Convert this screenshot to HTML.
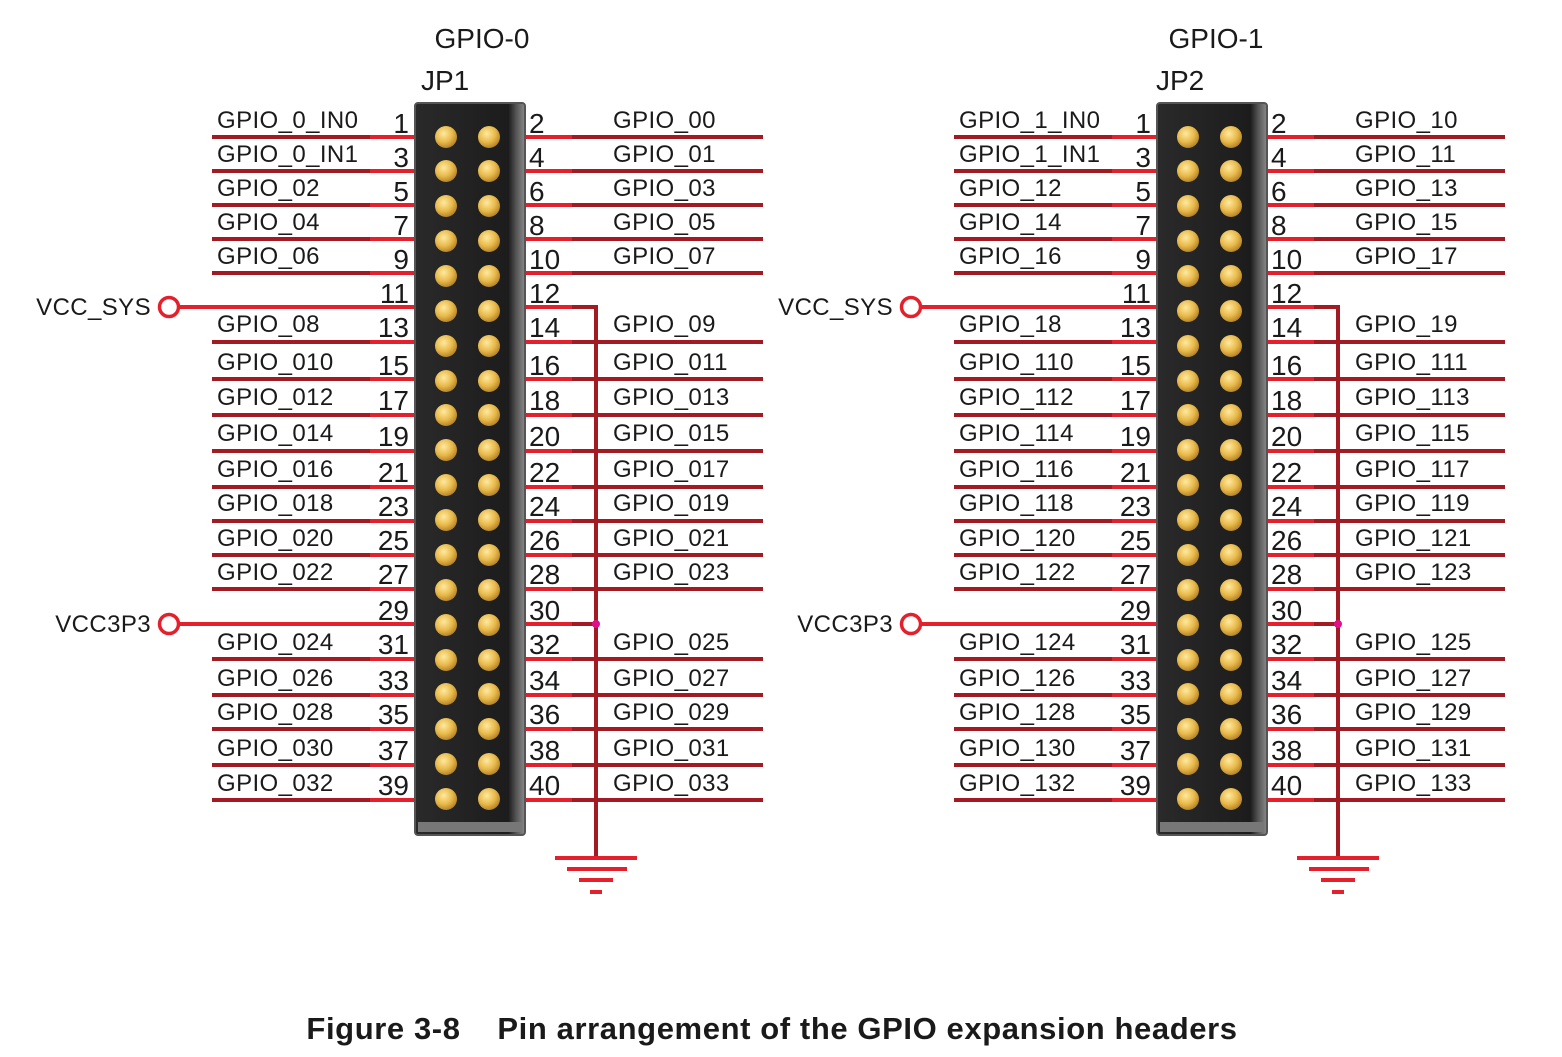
<!DOCTYPE html>
<html><head><meta charset="utf-8"><style>
html,body{margin:0;padding:0;background:#fff}
svg{display:block}
text{font-family:"Liberation Sans",sans-serif;fill:#1a1a1a}
.l{font-size:24px;letter-spacing:0.4px}
.n{font-size:28px}
.t{font-size:28px}
.c{font-size:31px;font-weight:bold;letter-spacing:0.6px}
</style></head><body>
<svg width="1562" height="1057" viewBox="0 0 1562 1057" xmlns="http://www.w3.org/2000/svg">
<defs>
<radialGradient id="gd" cx="40%" cy="35%" r="65%"><stop offset="0" stop-color="#ffe9a0"/><stop offset="0.6" stop-color="#e8b94a"/><stop offset="1" stop-color="#b8862a"/></radialGradient>
<linearGradient id="bd" x1="0" x2="1" y1="0" y2="0"><stop offset="0" stop-color="#2a2a2a"/><stop offset="0.85" stop-color="#1c1c1c"/><stop offset="0.92" stop-color="#555"/><stop offset="1" stop-color="#8a8a8a"/></linearGradient>
<g id="hdr">
<path fill="none" stroke="#a31b22" stroke-width="4" d="M212 137H370M212 171H370M212 205H370M212 239H370M212 273H370M212 342H370M212 379H370M212 415H370M212 451H370M212 487H370M212 521H370M212 555H370M212 589H370M212 659H370M212 695H370M212 729H370M212 765H370M212 800H370"/>
<path fill="none" stroke="#e3202b" stroke-width="4" d="M370 137H414M370 171H414M370 205H414M370 239H414M370 273H414M370 342H414M370 379H414M370 415H414M370 451H414M370 487H414M370 521H414M370 555H414M370 589H414M370 659H414M370 695H414M370 729H414M370 765H414M370 800H414M179 307H414M179 624H414"/>
<path fill="none" stroke="#e3202b" stroke-width="4" d="M525 137H572M525 171H572M525 205H572M525 239H572M525 273H572M525 307H572M525 342H572M525 379H572M525 415H572M525 451H572M525 487H572M525 521H572M525 555H572M525 589H572M525 624H572M525 659H572M525 695H572M525 729H572M525 765H572M525 800H572"/>
<path fill="none" stroke="#a31b22" stroke-width="4" d="M572 137H763M572 171H763M572 205H763M572 239H763M572 273H763M572 342H763M572 379H763M572 415H763M572 451H763M572 487H763M572 521H763M572 555H763M572 589H763M572 659H763M572 695H763M572 729H763M572 765H763M572 800H763M572 307H596M572 624H596M596 305V858"/>
<path fill="none" stroke="#e3202b" stroke-width="4" d="M555 858H637M567 869H627M579 880H613M590 892H602"/>
<circle cx="596" cy="624" r="4" fill="#e0108a"/>
<circle cx="169" cy="307" r="9.5" fill="#fff" stroke="#e3202b" stroke-width="3.5"/>
<circle cx="169" cy="624" r="9.5" fill="#fff" stroke="#e3202b" stroke-width="3.5"/>
<rect x="415" y="103" width="110" height="732" rx="3" fill="url(#bd)" stroke="#555" stroke-width="2"/>
<rect x="418" y="822" width="104" height="10" fill="#777"/>
<g fill="url(#gd)">
<circle cx="446" cy="137" r="11"/><circle cx="489" cy="137" r="11"/>
<circle cx="446" cy="171" r="11"/><circle cx="489" cy="171" r="11"/>
<circle cx="446" cy="206" r="11"/><circle cx="489" cy="206" r="11"/>
<circle cx="446" cy="241" r="11"/><circle cx="489" cy="241" r="11"/>
<circle cx="446" cy="276" r="11"/><circle cx="489" cy="276" r="11"/>
<circle cx="446" cy="311" r="11"/><circle cx="489" cy="311" r="11"/>
<circle cx="446" cy="346" r="11"/><circle cx="489" cy="346" r="11"/>
<circle cx="446" cy="381" r="11"/><circle cx="489" cy="381" r="11"/>
<circle cx="446" cy="415" r="11"/><circle cx="489" cy="415" r="11"/>
<circle cx="446" cy="450" r="11"/><circle cx="489" cy="450" r="11"/>
<circle cx="446" cy="485" r="11"/><circle cx="489" cy="485" r="11"/>
<circle cx="446" cy="520" r="11"/><circle cx="489" cy="520" r="11"/>
<circle cx="446" cy="555" r="11"/><circle cx="489" cy="555" r="11"/>
<circle cx="446" cy="590" r="11"/><circle cx="489" cy="590" r="11"/>
<circle cx="446" cy="625" r="11"/><circle cx="489" cy="625" r="11"/>
<circle cx="446" cy="660" r="11"/><circle cx="489" cy="660" r="11"/>
<circle cx="446" cy="694" r="11"/><circle cx="489" cy="694" r="11"/>
<circle cx="446" cy="729" r="11"/><circle cx="489" cy="729" r="11"/>
<circle cx="446" cy="764" r="11"/><circle cx="489" cy="764" r="11"/>
<circle cx="446" cy="799" r="11"/><circle cx="489" cy="799" r="11"/>
</g>
<g class="n">
<text x="409" y="133" text-anchor="end">1</text><text x="409" y="167" text-anchor="end">3</text><text x="409" y="201" text-anchor="end">5</text><text x="409" y="235" text-anchor="end">7</text><text x="409" y="269" text-anchor="end">9</text><text x="409" y="303" text-anchor="end">11</text><text x="409" y="337" text-anchor="end">13</text><text x="409" y="375" text-anchor="end">15</text><text x="409" y="410" text-anchor="end">17</text><text x="409" y="446" text-anchor="end">19</text><text x="409" y="482" text-anchor="end">21</text><text x="409" y="516" text-anchor="end">23</text><text x="409" y="550" text-anchor="end">25</text><text x="409" y="584" text-anchor="end">27</text><text x="409" y="620" text-anchor="end">29</text><text x="409" y="654" text-anchor="end">31</text><text x="409" y="690" text-anchor="end">33</text><text x="409" y="724" text-anchor="end">35</text><text x="409" y="760" text-anchor="end">37</text><text x="409" y="795" text-anchor="end">39</text>
<text x="529" y="133">2</text><text x="529" y="167">4</text><text x="529" y="201">6</text><text x="529" y="235">8</text><text x="529" y="269">10</text><text x="529" y="303">12</text><text x="529" y="337">14</text><text x="529" y="375">16</text><text x="529" y="410">18</text><text x="529" y="446">20</text><text x="529" y="482">22</text><text x="529" y="516">24</text><text x="529" y="550">26</text><text x="529" y="584">28</text><text x="529" y="620">30</text><text x="529" y="654">32</text><text x="529" y="690">34</text><text x="529" y="724">36</text><text x="529" y="760">38</text><text x="529" y="795">40</text>
</g>
<text class="l" x="151" y="315" text-anchor="end">VCC_SYS</text>
<text class="l" x="151" y="632" text-anchor="end">VCC3P3</text>
</g>
</defs>
<use href="#hdr"/>
<use href="#hdr" transform="translate(742,0)"/>

<text class="t" x="482" y="48" text-anchor="middle">GPIO-0</text>
<text class="t" x="421" y="90">JP1</text>
<text class="t" x="1216" y="48" text-anchor="middle">GPIO-1</text>
<text class="t" x="1156" y="90">JP2</text>

<g class="l">
<text x="217" y="128">GPIO_0_IN0</text><text x="217" y="162">GPIO_0_IN1</text><text x="217" y="196">GPIO_02</text><text x="217" y="230">GPIO_04</text><text x="217" y="264">GPIO_06</text><text x="217" y="332">GPIO_08</text><text x="217" y="370">GPIO_010</text><text x="217" y="405">GPIO_012</text><text x="217" y="441">GPIO_014</text><text x="217" y="477">GPIO_016</text><text x="217" y="511">GPIO_018</text><text x="217" y="546">GPIO_020</text><text x="217" y="580">GPIO_022</text><text x="217" y="650">GPIO_024</text><text x="217" y="686">GPIO_026</text><text x="217" y="720">GPIO_028</text><text x="217" y="756">GPIO_030</text><text x="217" y="791">GPIO_032</text>
<text x="613" y="128">GPIO_00</text><text x="613" y="162">GPIO_01</text><text x="613" y="196">GPIO_03</text><text x="613" y="230">GPIO_05</text><text x="613" y="264">GPIO_07</text><text x="613" y="332">GPIO_09</text><text x="613" y="370">GPIO_011</text><text x="613" y="405">GPIO_013</text><text x="613" y="441">GPIO_015</text><text x="613" y="477">GPIO_017</text><text x="613" y="511">GPIO_019</text><text x="613" y="546">GPIO_021</text><text x="613" y="580">GPIO_023</text><text x="613" y="650">GPIO_025</text><text x="613" y="686">GPIO_027</text><text x="613" y="720">GPIO_029</text><text x="613" y="756">GPIO_031</text><text x="613" y="791">GPIO_033</text>
<text x="959" y="128">GPIO_1_IN0</text><text x="959" y="162">GPIO_1_IN1</text><text x="959" y="196">GPIO_12</text><text x="959" y="230">GPIO_14</text><text x="959" y="264">GPIO_16</text><text x="959" y="332">GPIO_18</text><text x="959" y="370">GPIO_110</text><text x="959" y="405">GPIO_112</text><text x="959" y="441">GPIO_114</text><text x="959" y="477">GPIO_116</text><text x="959" y="511">GPIO_118</text><text x="959" y="546">GPIO_120</text><text x="959" y="580">GPIO_122</text><text x="959" y="650">GPIO_124</text><text x="959" y="686">GPIO_126</text><text x="959" y="720">GPIO_128</text><text x="959" y="756">GPIO_130</text><text x="959" y="791">GPIO_132</text>
<text x="1355" y="128">GPIO_10</text><text x="1355" y="162">GPIO_11</text><text x="1355" y="196">GPIO_13</text><text x="1355" y="230">GPIO_15</text><text x="1355" y="264">GPIO_17</text><text x="1355" y="332">GPIO_19</text><text x="1355" y="370">GPIO_111</text><text x="1355" y="405">GPIO_113</text><text x="1355" y="441">GPIO_115</text><text x="1355" y="477">GPIO_117</text><text x="1355" y="511">GPIO_119</text><text x="1355" y="546">GPIO_121</text><text x="1355" y="580">GPIO_123</text><text x="1355" y="650">GPIO_125</text><text x="1355" y="686">GPIO_127</text><text x="1355" y="720">GPIO_129</text><text x="1355" y="756">GPIO_131</text><text x="1355" y="791">GPIO_133</text>
</g>

<text class="c" x="772" y="1039" text-anchor="middle" xml:space="preserve">Figure 3-8    Pin arrangement of the GPIO expansion headers</text>
</svg>
</body></html>
